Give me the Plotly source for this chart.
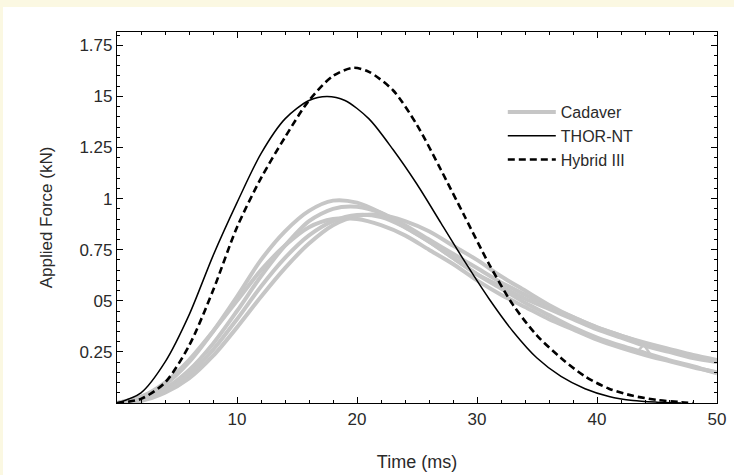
import plotly.graph_objects as go

# ---- data ----
t_cad = [0, 2, 4, 6, 8, 10, 12, 14, 16, 18, 20, 22, 24, 26, 28, 30, 32, 34, 36, 38, 40, 42, 44, 46, 48, 50]
cad1 = [0, 0.03, 0.09, 0.20, 0.35, 0.52, 0.70, 0.84, 0.94, 0.99, 0.98, 0.93, 0.86, 0.79, 0.71, 0.63, 0.57, 0.51, 0.46, 0.41, 0.36, 0.32, 0.28, 0.25, 0.22, 0.20]
cad2 = [0, 0.02, 0.07, 0.16, 0.29, 0.45, 0.62, 0.77, 0.89, 0.95, 0.96, 0.93, 0.87, 0.80, 0.73, 0.66, 0.59, 0.53, 0.47, 0.42, 0.37, 0.33, 0.29, 0.26, 0.23, 0.20]
cad3 = [0, 0.01, 0.05, 0.12, 0.23, 0.37, 0.52, 0.66, 0.78, 0.87, 0.915, 0.92, 0.89, 0.84, 0.77, 0.70, 0.62, 0.55, 0.48, 0.42, 0.37, 0.33, 0.295, 0.265, 0.235, 0.21]
cad4 = [0, 0.03, 0.10, 0.21, 0.35, 0.50, 0.65, 0.77, 0.86, 0.90, 0.90, 0.87, 0.82, 0.75, 0.68, 0.60, 0.53, 0.47, 0.41, 0.36, 0.31, 0.27, 0.235, 0.205, 0.175, 0.15]
cad5 = [0, 0.015, 0.06, 0.14, 0.26, 0.41, 0.57, 0.71, 0.82, 0.89, 0.92, 0.91, 0.86, 0.79, 0.71, 0.63, 0.56, 0.49, 0.43, 0.37, 0.32, 0.28, 0.245, 0.21, 0.18, 0.145]
spike_t = [43.3, 43.9, 44.4]
spike_f = [0.248, 0.285, 0.242]

t_thor = [0, 2, 4, 6, 8, 10, 12, 14, 16, 17.5, 19, 21, 23, 25, 27, 29, 31, 33, 35, 37, 39, 41, 43, 45, 47]
f_thor = [0, 0.05, 0.20, 0.43, 0.72, 0.98, 1.22, 1.39, 1.48, 1.50, 1.48, 1.39, 1.24, 1.07, 0.88, 0.69, 0.51, 0.35, 0.22, 0.13, 0.07, 0.032, 0.012, 0.004, 0]

t_h3 = [0, 2, 4, 6, 8, 10, 12, 14, 16, 18, 19.7, 21, 23, 25, 27, 29, 31, 33, 35, 37, 39, 41, 43, 45, 47, 48]
f_h3 = [0, 0.02, 0.10, 0.28, 0.55, 0.86, 1.10, 1.30, 1.48, 1.60, 1.64, 1.62, 1.53, 1.36, 1.14, 0.91, 0.68, 0.48, 0.33, 0.22, 0.13, 0.07, 0.035, 0.015, 0.004, 0]

x_tickvals = [10, 20, 30, 40, 50]
x_ticktext = ["10", "20", "30", "40", "50"]
y_tickvals = [0.25, 0.5, 0.75, 1, 1.25, 1.5, 1.75]
y_ticktext = ["0.25", "05", "0.75", "1", "1.25", "15", "1.75"]

GRAY = "#c6c6c6"
FONT = "Liberation Sans, Arial, sans-serif"
TXT = "#2a2a2a"
fig = go.Figure()

cads = [cad1, cad2, cad3, cad4, cad5]
for i, c in enumerate(cads):
    fig.add_trace(go.Scatter(x=t_cad, y=c, mode="lines", name="Cadaver",
                             line=dict(color=GRAY, width=4, shape="spline", smoothing=0.8),
                             showlegend=(i == 0), legendrank=1))
fig.add_trace(go.Scatter(x=spike_t, y=spike_f, mode="lines", showlegend=False,
                         line=dict(color=GRAY, width=2.5)))
fig.add_trace(go.Scatter(x=t_thor, y=f_thor, mode="lines", name="THOR-NT",
                         line=dict(color="black", width=1.5, shape="spline", smoothing=0.8),
                         legendrank=2))
fig.add_trace(go.Scatter(x=t_h3, y=f_h3, mode="lines", name="Hybrid III",
                         line=dict(color="black", width=2.6, dash="7px,4px", shape="spline", smoothing=0.8),
                         legendrank=3))

tick_font = dict(family=FONT, size=17, color=TXT)
fig.update_xaxes(range=[0, 50], tickmode="array", tickvals=x_tickvals, ticktext=x_ticktext,
                 ticks="inside", ticklen=6, tickwidth=1, tickcolor="black",
                 minor=dict(tickmode="linear", tick0=0, dtick=2, ticks="inside", ticklen=3, tickcolor="black"),
                 showline=True, linecolor="black", linewidth=1.2, mirror="ticks",
                 showgrid=False, zeroline=False, tickfont=tick_font, automargin=False,
                 title=dict(text="Time (ms)", font=dict(family=FONT, size=18, color=TXT), standoff=27))
fig.update_yaxes(range=[0, 1.815], tickmode="array", tickvals=y_tickvals, ticktext=y_ticktext,
                 ticks="inside", ticklen=6, tickwidth=1, tickcolor="black",
                 minor=dict(tickmode="linear", tick0=0, dtick=0.05, ticks="inside", ticklen=3, tickcolor="black"),
                 showline=True, linecolor="black", linewidth=1.2, mirror="ticks",
                 showgrid=False, zeroline=False, tickfont=tick_font, automargin=False,
                 title=dict(text="Applied Force (kN)", font=dict(family=FONT, size=17, color=TXT), standoff=22))

fig.update_layout(
    width=734, height=475,
    margin=dict(l=117, r=17, t=32, b=72, autoexpand=False),
    paper_bgcolor="white", plot_bgcolor="white",
    legend=dict(x=0.643, y=0.83, xanchor="left", yanchor="top", bgcolor="rgba(0,0,0,0)",
                itemwidth=48,
                font=dict(family=FONT, size=16, color=TXT),
                traceorder="normal"),
    shapes=[
        dict(type="rect", xref="paper", yref="paper", x0=-117 / 600, x1=617 / 600,
             y0=1 + 25 / 371, y1=1 + 32 / 371, fillcolor="#fbf8e2", line=dict(width=0), layer="below"),
        dict(type="rect", xref="paper", yref="paper", x0=-117 / 600, x1=-114 / 600,
             y0=-72 / 371, y1=1 + 32 / 371, fillcolor="#fbf8e2", line=dict(width=0), layer="below"),
    ],
)

fig.write_html("out.html", config={"displayModeBar": False},
               post_script="document.body.style.margin='0';")
